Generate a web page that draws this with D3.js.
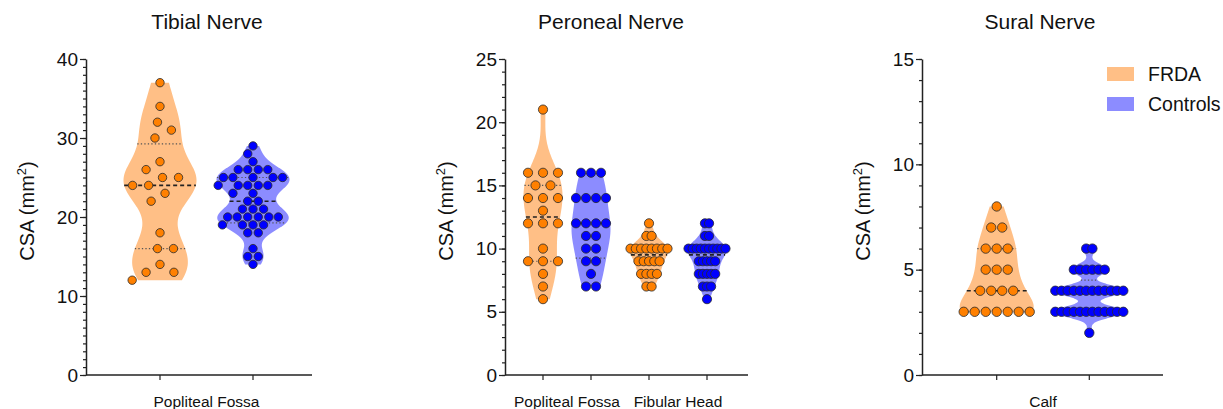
<!DOCTYPE html>
<html>
<head>
<meta charset="utf-8">
<script src="https://cdn.jsdelivr.net/npm/d3@7/dist/d3.min.js"></script>
<style>
  body { margin: 0; background: #fff; }
  text { font-family: "Liberation Sans", Arial, sans-serif; fill: #111; }
</style>
</head>
<body>
<svg id="chart" width="1223" height="409"></svg>
<script>
// ---- data (CSA in mm2, one value per subject) ----
var groupNames = ['FRDA', 'Controls'];

var tibialSites = ['Popliteal Fossa'];
var tibialTicks = [0, 10, 20, 30, 40];
var tibialFrda = [37, 34, 32, 31, 30, 27, 26, 25, 25, 24, 24, 23, 22, 18, 16, 16, 14, 13, 13, 12];
var tibialControls = [29, 28, 27, 26, 26, 26, 26, 25, 25, 25, 25, 25, 24, 24, 24, 24, 24, 23, 23, 22, 22,
  21, 21, 21, 20, 20, 20, 20, 20, 20, 19, 19, 19, 19, 18, 18, 16, 15, 15, 14];

var peronealSites = ['Popliteal Fossa', 'Fibular Head'];
var peronealTicks = [0, 5, 10, 15, 20, 25];
var peronealPfFrda = [21, 16, 16, 16, 15, 15, 14, 14, 14, 13, 12, 12, 12, 10, 9, 9, 9, 8, 7, 6];
var peronealPfControls = [16, 16, 16, 14, 14, 14, 14, 12, 12, 12, 12, 11, 11, 10, 10, 9, 9, 8, 7, 7];
var peronealFhFrda = [12, 11, 11, 10, 10, 10, 10, 10, 10, 10, 10, 9, 9, 9, 9, 9, 8, 8, 8, 8, 7, 7];
var peronealFhControls = [12, 12, 11, 11, 10, 10, 10, 10, 10, 10, 10, 10, 10, 10, 9, 9, 9, 9, 9,
  8, 8, 8, 8, 8, 7, 7, 7, 6];

var suralSites = ['Calf'];
var suralTicks = [0, 5, 10, 15];
var suralFrda = [8, 7, 7, 6, 6, 6, 5, 5, 5, 4, 4, 4, 4, 3, 3, 3, 3, 3, 3, 3];
var suralControls = [6, 6, 5, 5, 5, 5, 5, 5, 4, 4, 4, 4, 4, 4, 4, 4, 4, 4, 4, 4,
  3, 3, 3, 3, 3, 3, 3, 3, 3, 3, 3, 3, 2];

// ---- styles ----
var colors = {
  FRDA: { violin: '#FFBF86', point: '#FF8000' },
  Controls: { violin: '#8C8CFF', point: '#0000FF' }
};

var panels = [
  { title: 'Tibial Nerve', titleX: 207, left: 86, right: 312, max: 40, ticks: tibialTicks, sites: tibialSites,
    siteRange: [206.5, 206.5], groupOff: [46.5], half: 36.5, r: 4.2, bw: { FRDA: 0.68, Controls: 0.68 },
    swarm: { FRDA: 16, Controls: 9.5 },
    data: { 'Popliteal Fossa': { FRDA: tibialFrda, Controls: tibialControls } } },
  { title: 'Peroneal Nerve', titleX: 611, left: 505, right: 748, max: 25, ticks: peronealTicks, sites: peronealSites,
    siteRange: [567, 678], groupOff: [24, 29], half: 19.5, r: 4.6, bw: { FRDA: 0.9, Controls: 0.9 },
    spacing: { FRDA: 15, Controls: 10 }, fit: 37,
    data: { 'Popliteal Fossa': { FRDA: peronealPfFrda, Controls: peronealPfControls },
            'Fibular Head': { FRDA: peronealFhFrda, Controls: peronealFhControls } } },
  { title: 'Sural Nerve', titleX: 1040, left: 922, right: 1163, max: 15, ticks: suralTicks, sites: suralSites,
    siteRange: [1043, 1043], groupOff: [46.3], half: 37, r: 4.7, bw: { FRDA: 0.8, Controls: 0.6 },
    spacing: { FRDA: 11, Controls: 11 }, fit: 68,
    data: { 'Calf': { FRDA: suralFrda, Controls: suralControls } } }
];

var yTop = 59, yBottom = 375;
var svg = d3.select('#chart');

function quart(sorted, p) {
  var pos = (sorted.length + 1) * p;
  var lo = Math.floor(pos);
  if (lo < 1) return sorted[0];
  if (lo >= sorted.length) return sorted[sorted.length - 1];
  return sorted[lo - 1] + (pos - lo) * (sorted[lo] - sorted[lo - 1]);
}

function bandwidth(sorted) {
  var sd = d3.deviation(sorted);
  var iqr = (quart(sorted, 0.75) - quart(sorted, 0.25)) / 1.34;
  var a = iqr > 0 ? Math.min(sd, iqr) : sd;
  return 0.9 * a * Math.pow(sorted.length, -0.2);
}

function density(values, h, v) {
  return d3.sum(values, function(d) { return Math.exp(-0.5 * Math.pow((v - d) / h, 2)); });
}

// greedy beeswarm: each dot goes as close to the centre as it can without touching placed dots
function swarm(vals, D, y) {
  var placed = [];
  vals.slice().sort(d3.descending).forEach(function(v) {
    var py = y(v);
    var near = placed.filter(function(q) { return Math.abs(q.py - py) < D; });
    var cands = [0];
    near.forEach(function(q) {
      var dx = Math.sqrt(D * D - Math.pow(q.py - py, 2));
      cands.push(q.dx - dx, q.dx + dx);
    });
    cands.sort(function(a, b) { return Math.abs(a) - Math.abs(b) || a - b; });
    var x = cands.find(function(c) {
      return near.every(function(q) {
        return Math.pow(q.dx - c, 2) + Math.pow(q.py - py, 2) >= D * D - 0.01;
      });
    });
    placed.push({ v: v, py: py, dx: x });
  });
  return placed;
}

function rowsLayout(vals, s, fit) {
  var rows = d3.groups(vals, function(d) { return d; });
  var maxRow = d3.max(rows, function(r) { return r[1].length; });
  if (fit && maxRow > 1) s = Math.min(s, fit / (maxRow - 1));
  var dots = [];
  rows.forEach(function(r) {
    var n = r[1].length;
    r[1].forEach(function(v, i) { dots.push({ v: v, dx: (i - (n - 1) / 2) * s }); });
  });
  return dots;
}

panels.forEach(function(p) {
  var g = svg.append('g');
  var y = d3.scaleLinear().domain([0, p.max]).range([yBottom, yTop]);
  var xSite = d3.scalePoint().domain(p.sites).range(p.siteRange);

  svg.append('text')
    .attr('x', p.titleX).attr('y', 29)
    .attr('text-anchor', 'middle').style('font-size', '21px')
    .text(p.title);

  var lab = svg.append('text')
    .attr('transform', 'translate(' + (p.left - 52) + ',211) rotate(-90)')
    .attr('text-anchor', 'middle').style('font-size', '20px');
  lab.append('tspan').text('CSA (mm');
  lab.append('tspan').attr('dy', -8).style('font-size', '13px').text('2');
  lab.append('tspan').attr('dy', 8).text(')');

  var marks = g.append('g');
  var dotLayer = g.append('g');

  p.sites.forEach(function(site, si) {
    var xGroup = d3.scalePoint().domain(groupNames).range([-p.groupOff[si], p.groupOff[si]]);
    groupNames.forEach(function(gn) {
      var vals = p.data[site][gn].slice().sort(d3.ascending);
      var cx = xSite(site) + xGroup(gn);
      var h = bandwidth(vals) * p.bw[gn];
      var lo = vals[0], hi = vals[vals.length - 1];
      var steps = d3.range(161).map(function(i) { return lo + (hi - lo) * i / 160; });
      var dens = steps.map(function(v) { return density(vals, h, v); });
      var dmax = d3.max(dens);
      var pts = steps.map(function(v, i) { return { v: v, w: dens[i] / dmax * p.half }; });

      marks.append('path')
        .datum(pts)
        .attr('fill', colors[gn].violin)
        .attr('d', d3.area()
          .x0(function(d) { return cx - d.w; })
          .x1(function(d) { return cx + d.w; })
          .y(function(d) { return y(d.v); })
          .curve(d3.curveMonotoneY));

      [0.25, 0.5, 0.75].forEach(function(q) {
        var qv = quart(vals, q);
        var w = density(vals, h, qv) / dmax * p.half;
        marks.append('line')
          .attr('x1', cx - w).attr('x2', cx + w)
          .attr('y1', y(qv)).attr('y2', y(qv))
          .attr('stroke', q === 0.5 ? '#222' : '#555')
          .attr('stroke-width', q === 0.5 ? 1.6 : 1.2)
          .attr('stroke-dasharray', q === 0.5 ? '4,3' : '1.3,2.2');
      });

      var dots = p.swarm ? swarm(vals, p.swarm[gn], y) : rowsLayout(vals, p.spacing[gn], p.fit);
      dotLayer.selectAll(null)
        .data(dots)
        .enter().append('circle')
        .attr('cx', function(d) { return cx + d.dx; })
        .attr('cy', function(d) { return y(d.v); })
        .attr('r', p.r)
        .attr('fill', colors[gn].point)
        .attr('stroke', '#2a2a2a')
        .attr('stroke-width', 0.8);
    });
  });

  // y axis with minor ticks
  var minor = g.append('g').attr('transform', 'translate(' + p.left + ',0)')
    .call(d3.axisLeft(y).tickValues(d3.range(0, p.max + 1, 1)).tickSize(3).tickFormat(''));
  minor.select('.domain').remove();
  var yAx = g.append('g').attr('transform', 'translate(' + p.left + ',0)')
    .call(d3.axisLeft(y).tickValues(p.ticks).tickSize(6).tickPadding(2).tickSizeOuter(0));
  yAx.selectAll('text').style('font-size', '19px').attr('fill', '#111');
  g.selectAll('.tick line').attr('stroke', '#222').attr('stroke-width', 1.2);
  yAx.select('.domain').attr('stroke', '#222').attr('stroke-width', 1.5);

  // x axis
  g.append('line')
    .attr('x1', p.left).attr('x2', p.right)
    .attr('y1', yBottom).attr('y2', yBottom)
    .attr('stroke', '#222').attr('stroke-width', 1.5);
  p.sites.forEach(function(site, si) {
    var xGroup = d3.scalePoint().domain(groupNames).range([-p.groupOff[si], p.groupOff[si]]);
    groupNames.forEach(function(gn) {
      var tx = xSite(site) + xGroup(gn);
      g.append('line').attr('x1', tx).attr('x2', tx)
        .attr('y1', yBottom).attr('y2', yBottom + 5)
        .attr('stroke', '#222').attr('stroke-width', 1.2);
    });
    g.append('text')
      .attr('x', xSite(site)).attr('y', 407)
      .attr('text-anchor', 'middle').style('font-size', '15.5px')
      .text(site);
  });
});

// legend
var legend = svg.append('g').attr('transform', 'translate(1107,67)');
groupNames.forEach(function(gn, i) {
  legend.append('rect').attr('x', 0).attr('y', i * 30).attr('width', 27).attr('height', 14)
    .attr('fill', colors[gn].violin);
  legend.append('text').attr('x', 41).attr('y', i * 30 + 14)
    .style('font-size', '19.5px').text(gn);
});
</script>
</body>
</html>
